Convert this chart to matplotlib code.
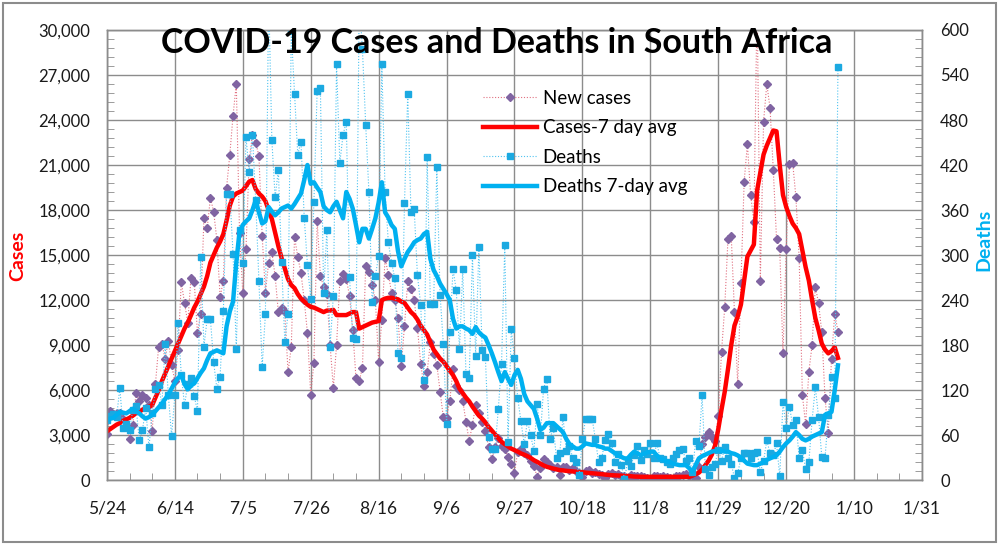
import numpy as np
import matplotlib
matplotlib.use("Agg")
import matplotlib.pyplot as plt
from matplotlib.ticker import MultipleLocator, FixedLocator, FuncFormatter
from matplotlib.patches import Rectangle

plt.rcParams['font.family'] = ['Lato', 'DejaVu Sans']

# ── 数据：2020-05-24 起的逐日数值 ────────────────────
new_cases = [
    3100, 4600, 4400, 4500, 4500, 4100, 3600, 2750, 3700, 5800,
    5300, 5700, 5450, 5000, 3300, 6400, 8900, 9100, 8100, 9300,
    7700, 6600, 8700, 13200, 11800, 10500, 13500, 13200, 9800, 11100,
    17500, 16800, 18800, 17900, 16000, 12200, 13300, 19500, 21700, 24300,
    26400, 16500, 12500, 15400, 21400, 23000, 22500, 21600, 16300, 12500,
    14500, 15200, 13600, 11200, 11500, 11200, 7200, 8900, 16200, 14900,
    13800, 12000, 9800, 5700, 7800, 17300, 13600, 12900, 12400, 9000,
    6150, 9000, 13250, 13760, 13400, 12300, 10000, 6800, 6600, 7500,
    14300, 13900, 13000, 12000, 7900, 10700, 14800, 13700, 12500, 12000,
    10800, 7600, 10300, 13250, 12760, 12000, 10150, 7770, 6280, 7200,
    9200, 8400, 7700, 5900, 4200, 4150, 5300, 7400, 6300, 6000,
    5300, 3900, 2600, 3700, 5000, 4500, 3900, 3300, 2200, 1400,
    2200, 2800, 2300, 2100, 1550, 1100, 500, 1900, 2100, 1800,
    1700, 1300, 950, 220, 780, 1400, 1200, 1000, 780, 900,
    330, 890, 900, 700, 800, 600, 450, 200, 600, 700,
    500, 550, 400, 350, 150, 400, 450, 350, 400, 300,
    250, 100, 350, 300, 250, 300, 200, 150, 50, 250,
    300, 200, 250, 200, 150, 50, 250, 300, 350, 400,
    300, 350, 150, 900, 2400, 2900, 3200, 2900, 2600, 4300,
    8550, 11550, 16100, 16300, 11200, 6400, 13150, 19900, 22400, 19000,
    17200, 32000, 13300, 23900, 26400, 24800, 20700, 16100, 15450, 8450,
    15400, 21050, 21150, 18850, 14800, 5650, 3750, 7220, 9000, 12900,
    11800, 9850, 5500, 3150, 8100, 11100, 9900,
]

cases_avg = [
    3250, 3400, 3550, 3700, 3800, 3950, 4050, 4150, 4300, 4450,
    4550, 4700, 4800, 4900, 5000, 5500, 6000, 6600, 7100, 7600,
    8100, 8600, 9100, 9600, 10100, 10500, 11000, 11500, 11900, 12400,
    12900, 13600, 14500, 15000, 15500, 15900, 16400, 17300, 18300, 18900,
    19100, 19200, 19300, 19600, 19900, 20000, 19400, 19100, 18900, 18600,
    18000, 17400, 16500, 15600, 14800, 14100, 13400, 13000, 12800, 12400,
    12100, 11900, 11700, 11550, 11500, 11400, 11300, 11200, 11300, 11300,
    11350, 11000, 11000, 11000, 11000, 11100, 11200, 11200, 10100, 10200,
    10300, 10400, 10500, 10550, 10600, 12000, 12100, 12150, 12150, 12100,
    12050, 11900, 11800, 11500, 11200, 11000, 10700, 10300, 10000, 9700,
    9200, 8700, 8400, 8100, 7900, 7600, 7300, 7000, 6600, 6100,
    5800, 5500, 5250, 4900, 4600, 4300, 4100, 3850, 3550, 3300,
    3050, 2800, 2550, 2400, 2250, 2100, 2000, 1900, 1780, 1700,
    1600, 1480, 1330, 1220, 1100, 980, 890, 830, 770, 720,
    670, 650, 620, 600, 580, 560, 550, 530, 500, 480,
    460, 440, 420, 400, 370, 350, 330, 320, 310, 300,
    290, 280, 260, 240, 230, 225, 220, 220, 220, 220,
    220, 220, 220, 220, 220, 220, 220, 220, 220, 220,
    220, 300, 400, 500, 700, 1000, 1300, 1700, 2300, 3400,
    4700, 5900, 7400, 9000, 10300, 10900, 11700, 13300, 14900, 15300,
    15700, 19300, 20500, 21700, 22300, 22800, 23300, 23250, 21000, 19000,
    18200, 17600, 17100, 16800, 16400, 15300, 14200, 13300, 12000, 10800,
    10000, 9100, 8700, 8450, 8600, 8850, 8150,
]

deaths = [
    80, 85, 88, 84, 123, 69, 75, 67, 93, 99,
    53, 67, 96, 44, 89, 121, 127, 100, 181, 113,
    59, 113, 209, 140, 100, 128, 136, 112, 92, 297,
    178, 215, 215, 157, 122, 138, 225, 382, 381, 302,
    175, 333, 290, 457, 411, 460, 373, 265, 151, 221,
    650, 453, 377, 413, 291, 184, 222, 598, 515, 434,
    451, 350, 287, 242, 371, 519, 523, 249, 334, 178,
    246, 554, 423, 460, 478, 271, 190, 188, 640, 574,
    474, 384, 238, 272, 299, 554, 384, 317, 290, 269,
    169, 163, 369, 515, 357, 361, 273, 234, 133, 431,
    235, 235, 417, 247, 182, 75, 198, 281, 253, 175,
    281, 142, 136, 300, 166, 311, 173, 164, 58, 41,
    42, 95, 155, 313, 51, 201, 163, 109, 79, 48,
    79, 60, 39, 102, 60, 122, 135, 55, 70, 29,
    36, 84, 39, 45, 30, 24, 7, 55, 82, 82,
    82, 55, 24, 30, 53, 61, 49, 24, 35, 20,
    2, 25, 19, 33, 46, 27, 40, 35, 49, 30,
    49, 30, 28, 24, 21, 30, 35, 40, 41, 25,
    30, 11, 52, 45, 113, 15, 7, 18, 22, 40,
    26, 44, 30, 22, 3, 9, 29, 36, 36, 30,
    36, 38, 11, 25, 53, 36, 33, 49, 5, 104,
    70, 98, 73, 80, 29, 40, 15, 24, 80, 124,
    84, 31, 29, 87, 138, 110, 551,
]

deaths_avg = [
    80, 82, 83, 87, 91, 90, 89, 92, 95, 92,
    89, 85, 82, 84, 87, 92, 97, 102, 108, 114,
    122, 130, 136, 140, 128, 121, 126, 129, 136, 143,
    149, 160, 169, 171, 173, 171, 169, 205, 225, 238,
    290, 331, 340, 345, 349, 360, 373, 357, 342, 345,
    364, 358, 353, 357, 362, 364, 366, 362, 368, 375,
    382, 400, 420, 395, 397, 390, 384, 365, 360, 357,
    365, 371, 360, 349, 384, 375, 362, 340, 317, 335,
    335, 322, 335, 349, 370, 397, 357, 350, 340, 335,
    305, 285, 295, 304, 310, 317, 320, 322, 328, 331,
    295, 280, 272, 262, 255, 248, 240, 215, 202, 205,
    205, 202, 200, 195, 204, 197, 193, 190, 180, 169,
    157, 144, 132, 144, 135, 127, 140, 147, 135, 115,
    105, 100, 95, 82, 67, 70, 76, 76, 76, 72,
    68, 64, 55, 48, 45, 42, 42, 45, 49, 48,
    47, 47, 45, 44, 42, 42, 39, 36, 33, 31,
    29, 29, 34, 38, 36, 33, 35, 37, 38, 38,
    33, 29, 27, 25, 24, 22, 21, 20, 20, 20,
    16, 11, 20, 29, 32, 34, 36, 38, 39, 40,
    39, 38, 38, 36, 35, 33, 30, 26, 22, 21,
    20, 20, 22, 24, 27, 29, 31, 33, 38, 44,
    49, 53, 58, 64, 60, 55, 53, 55, 58, 60,
    62, 64, 87, 89, 91, 120, 153,
]

x_tick_labels = ["5/24", "6/14", "7/5", "7/26", "8/16", "9/6", "9/27",
                 "10/18", "11/8", "11/29", "12/20", "1/10", "1/31"]

days = np.arange(len(new_cases))
dotted = (0, (1, 1.6))

fig = plt.figure(figsize=(9.99, 5.45), dpi=100)
ax = fig.add_axes([0.107, 0.119, 0.816, 0.826])
ax2 = ax.twinx()

# ── 主轴：病例 ──────────────────────────────
h1, = ax.plot(days, new_cases, color='#E07080', lw=0.8, ls=dotted,
              marker='D', ms=4, mfc='#8064A2', mec='#8064A2', label='New cases')
h2, = ax.plot(days, cases_avg, color='#FF0000', lw=3.2, label='Cases-7 day avg')

# ── 次轴：死亡 ──────────────────────────────
h3, = ax2.plot(days, deaths, color='#4FC3F0', lw=0.8, ls=dotted,
               marker='s', ms=4.5, mfc='#1BA9E1', mec='#1BA9E1', label='Deaths')
h4, = ax2.plot(days, deaths_avg, color='#00B0F0', lw=3.2, label='Deaths 7-day avg')

ax.set_xlim(0, 12 * 21)
ax.set_ylim(0, 30000)
ax2.set_ylim(0, 600)

ax.xaxis.set_major_locator(FixedLocator(np.arange(0, 13) * 21))
ax.set_xticklabels(x_tick_labels)
ax.xaxis.set_minor_locator(MultipleLocator(7))
ax.yaxis.set_major_locator(MultipleLocator(3000))
ax.yaxis.set_minor_locator(MultipleLocator(600))
ax.yaxis.set_major_formatter(FuncFormatter(lambda v, p: f'{int(v):,}'))
ax2.yaxis.set_major_locator(MultipleLocator(60))
ax2.yaxis.set_minor_locator(MultipleLocator(12))

grid_c = '#8C8C8C'
ax.grid(True, which='major', color=grid_c, lw=1.0)
ax.set_axisbelow(True)
for a in (ax, ax2):
    for s in a.spines.values():
        s.set_color(grid_c)
        s.set_linewidth(1.0)

ax.tick_params(axis='x', which='major', length=0, pad=15, labelsize=12.5, colors='#1a1a1a')
ax.tick_params(axis='x', which='minor', direction='in', length=5, color=grid_c)
ax.tick_params(axis='y', which='major', length=0, pad=12, labelsize=12, colors='#1a1a1a')
ax.tick_params(axis='y', which='minor', direction='in', length=5, color=grid_c)
ax2.tick_params(axis='y', which='major', length=0, pad=13, labelsize=12, colors='#1a1a1a')
ax2.tick_params(axis='y', which='minor', direction='in', length=5, color=grid_c)

# 轴标题
fig.text(0.018, 0.53, 'Cases', rotation=90, color='#FF0000', fontsize=14,
         fontweight='bold', ha='center', va='center')
fig.text(0.985, 0.56, 'Deaths', rotation=90, color='#00B0F0', fontsize=14,
         fontweight='bold', ha='center', va='center')

fig.text(0.4975, 1 - 43 / 545, 'COVID-19 Cases and Deaths in South Africa',
         ha='center', va='center', fontsize=24.5, fontweight='bold')

ax2.legend([h1, h2, h3, h4], [h.get_label() for h in (h1, h2, h3, h4)],
           loc='upper left', bbox_to_anchor=(0.483, 1 - 90 / 545),
           bbox_transform=fig.transFigure, frameon=False, fontsize=13.5,
           handlelength=2.9, handletextpad=0.3, labelspacing=0.66,
           numpoints=1, borderpad=0, borderaxespad=0)

fig.patches.append(Rectangle((0.003, 0.005), 0.994, 0.99, transform=fig.transFigure,
                             fill=False, ec='#8C8C8C', lw=1.5))

fig.savefig('out.png', dpi=100)
